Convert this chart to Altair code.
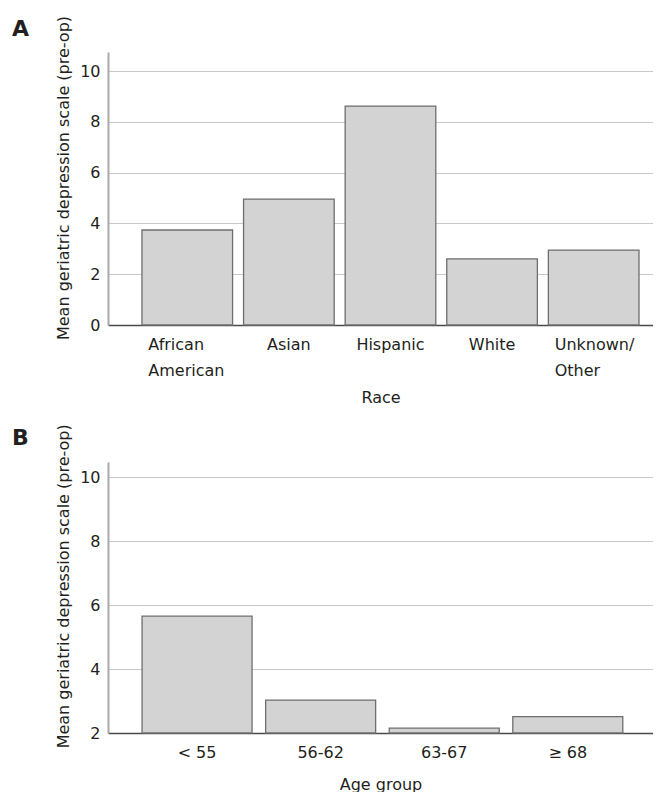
import altair as alt
import pandas as pd

race = ["African American", "Asian", "Hispanic", "White", "Unknown/Other"]
race_mean = [3.74, 4.96, 8.62, 2.6, 2.95]

age = ["< 55", "56-62", "63-67", "≥ 68"]
age_mean = [5.65, 3.03, 2.15, 2.51]

y_title = "Mean geriatric depression scale (pre-op)"
FONT = "DejaVu Sans"
TXT = "#231f20"

df_a = pd.DataFrame({"race": race, "mean": race_mean})
df_b = pd.DataFrame({"age": age, "mean": age_mean})

bar_style = dict(fill="#d3d3d3", stroke="#6e6e6e", strokeWidth=1.3)


def y_axis(values, title_y):
    return alt.Axis(
        values=values, title=y_title, titleFont=FONT, titleFontSize=16,
        titleFontWeight="normal", titleColor=TXT, titleY=title_y, titlePadding=8,
        labelFont=FONT, labelFontSize=16, labelColor=TXT, labelPadding=8,
        ticks=False, domainColor="#a9a9a9", domainWidth=2,
        grid=True, gridColor="#c8c8c8", gridWidth=1.2,
    )


def panel_title(t):
    return alt.TitleParams(
        text=t, anchor="start", frame="group", dx=-96, dy=60, orient="top",
        font=FONT, fontSize=22, fontWeight="bold", color=TXT,
        baseline="alphabetic", offset=17,
    )


multi = "datum.value == 'African American' || datum.value == 'Unknown/Other'"

chart_a = alt.Chart(df_a, title=panel_title("A")).mark_bar(**bar_style).encode(
    x=alt.X(
        "race:N", sort=None, title="Race",
        scale=alt.Scale(paddingInner=0.108, paddingOuter=0.236, align=0.708),
        axis=alt.Axis(
            labelAngle=0, labelFont=FONT, labelFontSize=16, labelColor=TXT,
            labelPadding=11, labelLineHeight=26,
            labelExpr="datum.value == 'African American' ? ['African', 'American'] : datum.value == 'Unknown/Other' ? ['Unknown/', 'Other'] : datum.label",
            labelAlign=alt.condition(multi, alt.value("left"), alt.value("center")),
            labelOffset=alt.condition(multi, alt.value(-39), alt.value(0)),
            ticks=False, domainColor="#4a4a4a", domainWidth=1.5,
            titleFont=FONT, titleFontSize=16, titleFontWeight="normal",
            titleColor=TXT, titlePadding=11,
        ),
    ),
    y=alt.Y(
        "mean:Q",
        scale=alt.Scale(domain=[0, 10.75], nice=False, zero=True),
        axis=y_axis([0, 2, 4, 6, 8, 10], 125.5),
    ),
).properties(width=545, height=273)

chart_b = alt.Chart(df_b, title=panel_title("B")).mark_bar(**bar_style).encode(
    x=alt.X(
        "age:N", sort=None, title="Age group",
        scale=alt.Scale(paddingInner=0.11, paddingOuter=0.26, align=0.53),
        axis=alt.Axis(
            labelAngle=0, labelFont=FONT, labelFontSize=16, labelColor=TXT,
            labelPadding=11, ticks=False, domainColor="#4a4a4a", domainWidth=1.5,
            titleFont=FONT, titleFontSize=16, titleFontWeight="normal",
            titleColor=TXT, titlePadding=16,
        ),
    ),
    y=alt.Y(
        "mean:Q",
        scale=alt.Scale(domain=[2, 10.47], nice=False, zero=False),
        axis=y_axis([2, 4, 6, 8, 10], 123.8),
    ),
    y2=alt.datum(2),
).properties(width=545, height=271)

chart = alt.vconcat(chart_a, chart_b, spacing=18).properties(
    padding={"left": 4, "top": 7, "right": 0, "bottom": 0}
).configure(background="white", view=alt.ViewConfig(strokeWidth=0))

chart.save("out.html", embed_options={"renderer": "svg", "actions": False})
